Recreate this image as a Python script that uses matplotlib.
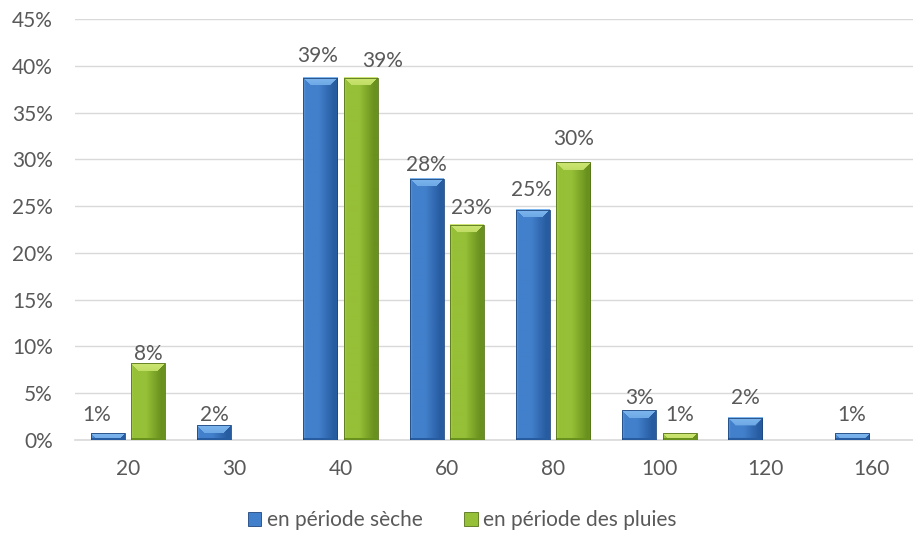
import numpy as np
import matplotlib
matplotlib.use("Agg")
import matplotlib.pyplot as plt
from matplotlib.patches import Rectangle
from matplotlib.ticker import FuncFormatter

# classes de taille et part des individus (%)
categories = ["20", "30", "40", "60", "80", "100", "120", "160"]
seche = [0.7, 1.6, 38.7, 27.9, 24.6, 3.2, 2.4, 0.7]
pluies = [8.2, 0.0, 38.7, 23.0, 29.7, 0.7, 0.0, 0.0]
series_names = ["en période sèche", "en période des pluies"]

# label placement: gap above bar top and horizontal nudge, in pixels
seche_gap = [11, 3, 15, 7, 13, 5, 13, 11]
seche_dx = [-11, 0, -3, 0, -2, 0, 0, 0]
pluies_gap = [2, 0, 10, 10, 16, 11, 0, 0]
pluies_dx = [0, 0, 22, 4, 0, 0, 0, 0]

plt.rcParams["font.family"] = ["Lato", "DejaVu Sans"]
TXT = "#595959"
FS = 15

# (edge light, centre, edge dark, bevel, outline)
blue = [(92, 152, 218), (66, 128, 204), (40, 92, 160), (125, 182, 238), (30, 70, 125)]
green = [(165, 205, 75), (150, 192, 55), (105, 145, 30), (205, 230, 115), (85, 115, 25)]

fig = plt.figure(figsize=(9.13, 5.36), dpi=100)
W, H = 913, 536
ax = fig.add_axes([75 / W, 1 - 440 / H, 850 / W, 421 / H])

x = np.arange(len(categories))
bw = 0.32
off = 0.19
ax.set_xlim(-0.5, len(categories) - 0.5)
ax.set_ylim(0, 45)


def shaded_bar(patch, pal):
    x0, y0 = patch.get_x(), patch.get_y()
    w, h = patch.get_width(), patch.get_height()
    if h <= 0:
        return
    p0 = ax.transData.transform((x0, y0))
    p1 = ax.transData.transform((x0 + w, y0 + h))
    wp = max(int(round(p1[0] - p0[0])), 2)
    hp = max(int(round(p1[1] - p0[1])), 2)
    t = np.linspace(0, 1, wp)
    stops = [0, 0.07, 0.45, 0.9, 1]
    cols = [pal[0], pal[1], pal[1], pal[2], pal[2]]
    row = np.stack([np.interp(t, stops, [c[k] for c in cols]) for k in range(3)], axis=-1)
    img = np.repeat(row[None, :, :], hp, axis=0)
    bev = 8
    for r in range(min(bev, hp)):
        lo = int(r)
        hi = wp - int(r)
        img[r, lo:hi] = np.array(pal[3]) * (1 - 0.25 * r / bev) + np.array(pal[1]) * 0.25 * r / bev
    # darker strip along the base
    img[-2:, :] = np.array(pal[2])
    ax.imshow(img / 255.0, extent=[x0, x0 + w, y0, y0 + h], origin="upper",
              aspect="auto", interpolation="bilinear", zorder=3)
    ax.add_patch(Rectangle((x0, y0), w, h, fill=False, ec=np.array(pal[4]) / 255,
                           lw=0.6, zorder=4))


b1 = ax.bar(x - off, seche, bw, color=np.array(blue[1]) / 255, zorder=2)
b2 = ax.bar(x + off, pluies, bw, color=np.array(green[1]) / 255, zorder=2)
for p in b1:
    shaded_bar(p, blue)
for p in b2:
    shaded_bar(p, green)
ax.set_xlim(-0.5, len(categories) - 0.5)
ax.set_ylim(0, 45)

for bars, vals, gaps, dxs in [(b1, seche, seche_gap, seche_dx), (b2, pluies, pluies_gap, pluies_dx)]:
    for p, v, g, d in zip(bars, vals, gaps, dxs):
        if v <= 0:
            continue
        ax.annotate(f"{v:.0f}%", (p.get_x() + p.get_width() / 2, v),
                    xytext=(d, g + 1), textcoords="offset pixels",
                    ha="center", va="baseline", fontsize=FS, color=TXT, zorder=5)

ax.set_xticks(x)
ax.set_xticklabels(categories)
ax.set_yticks(np.arange(0, 46, 5))
ax.yaxis.set_major_formatter(FuncFormatter(lambda v, _: f"{v:.0f}%"))
ax.grid(axis="y", color="#D9D9D9", lw=1)
ax.set_axisbelow(True)
for s in ["top", "right", "left"]:
    ax.spines[s].set_visible(False)
ax.spines["bottom"].set_color("#D9D9D9")
ax.spines["bottom"].set_linewidth(1.2)
ax.tick_params(length=0, colors=TXT, labelsize=FS)
ax.tick_params(axis="y", pad=16)
ax.tick_params(axis="x", pad=14)

handles = [Rectangle((0, 0), 1, 1, fc=np.array(blue[1]) / 255, ec=np.array(blue[4]) / 255, lw=0.6),
           Rectangle((0, 0), 1, 1, fc=np.array(green[1]) / 255, ec=np.array(green[4]) / 255, lw=0.6)]
fig.legend(handles, series_names, loc="center", bbox_to_anchor=(462 / W, 1 - 520 / H),
           ncol=2, frameon=False, fontsize=FS, labelcolor=TXT,
           handlelength=0.65, handleheight=0.65, handletextpad=0.25, columnspacing=2.0)

fig.savefig("out.png", dpi=100)
